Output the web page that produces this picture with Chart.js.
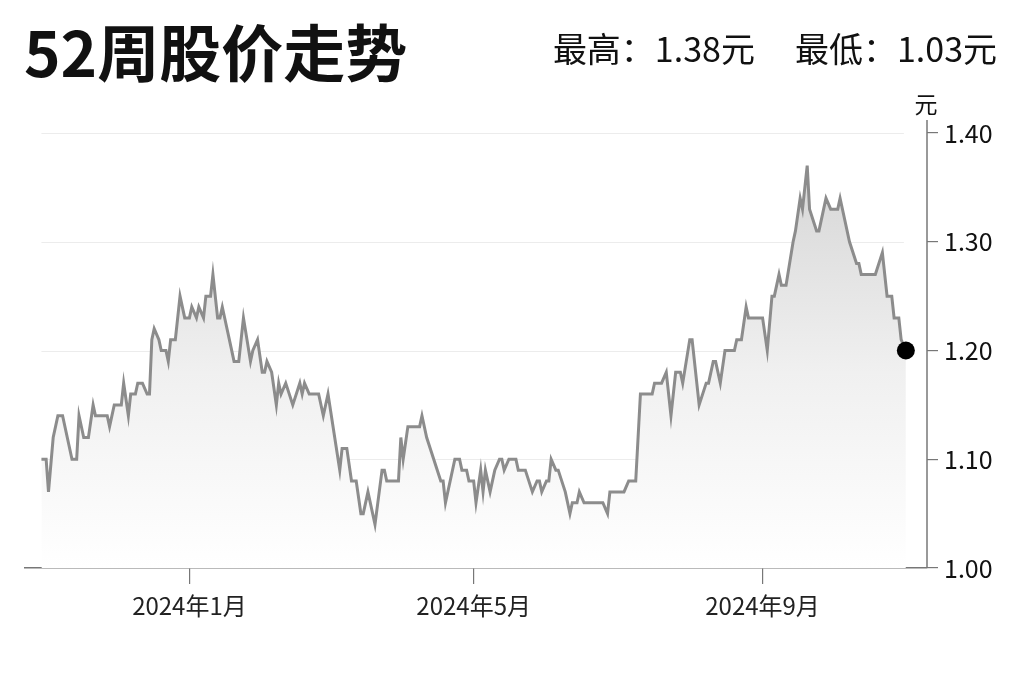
<!DOCTYPE html>
<html>
<head>
<meta charset="utf-8">
<script src="https://cdn.jsdelivr.net/npm/chart.js@4/dist/chart.umd.min.js"></script>
<style>
  html, body { margin: 0; padding: 0; background: #fff; }
  body { width: 1024px; height: 682px; position: relative; overflow: hidden;
         font-family: "Noto Sans CJK SC", "Noto Sans", sans-serif; color: #111; }
  #title { position: absolute; left: 24px; top: 19px; font-size: 62px; font-weight: 700; line-height: 1; }
  #range { position: absolute; right: 27px; top: 31px; font-size: 34px; line-height: 1; }
  #range span + span { margin-left: 40px; }
  #priceChart { position: absolute; left: 0; top: 0; }
</style>
</head>
<body>
<canvas id="priceChart" width="1024" height="682"></canvas>
<div id="title">52周股价走势</div>
<div id="range"><span>最高：1.38元</span><span>最低：1.03元</span></div>
<script>
// days counted from 2024-01-01, closing price in 元
const days = [-63, -61, -60, -58, -56, -54, -52, -50, -48, -47, -45, -43, -41, -40, -35, -34, -32, -29, -28, -26,
  -25, -23, -22, -20, -18, -17, -16, -15, -13, -12, -10, -9, -8, -6, -4, -2, 0, 1, 3, 4,
  6, 7, 9, 10, 12, 13, 14, 16, 17, 19, 21, 23, 26, 27, 29, 31, 32, 33, 35, 37,
  38, 39, 41, 44, 47, 48, 49, 51, 55, 57, 59, 64, 65, 67, 69, 71, 73, 74, 76, 79,
  82, 83, 84, 89, 90, 91, 93, 98, 99, 101, 104, 107, 108, 109, 113, 115, 116, 118, 119, 121,
  122, 124, 125, 126, 128, 130, 132, 133, 134, 136, 139, 140, 143, 146, 148, 149, 150, 152, 153, 154,
  156, 157, 160, 162, 163, 165, 166, 168, 176, 178, 179, 185, 187, 190, 192, 197, 198, 201, 203, 205,
  207, 209, 210, 213, 214, 217, 220, 221, 223, 224, 226, 228, 232, 233, 235, 237, 238, 244, 246, 248,
  249, 251, 252, 254, 257, 258, 260, 261, 263, 264, 267, 268, 271, 273, 276, 277, 281, 284, 285, 286,
  292, 295, 297, 299, 300, 302, 303, 305];
const prices = [1.10, 1.10, 1.07, 1.12, 1.14, 1.14, 1.12, 1.10, 1.10, 1.14, 1.12, 1.12, 1.15, 1.14, 1.14, 1.13, 1.15, 1.15, 1.17, 1.14,
  1.16, 1.16, 1.17, 1.17, 1.16, 1.16, 1.21, 1.22, 1.21, 1.20, 1.20, 1.19, 1.21, 1.21, 1.25, 1.23, 1.23, 1.24, 1.23, 1.24,
  1.23, 1.25, 1.25, 1.27, 1.23, 1.23, 1.24, 1.22, 1.21, 1.19, 1.19, 1.23, 1.19, 1.20, 1.21, 1.18, 1.18, 1.19, 1.18, 1.15,
  1.17, 1.16, 1.17, 1.15, 1.17, 1.16, 1.17, 1.16, 1.16, 1.14, 1.16, 1.09, 1.11, 1.11, 1.08, 1.08, 1.05, 1.05, 1.07, 1.04,
  1.09, 1.09, 1.08, 1.08, 1.12, 1.10, 1.13, 1.13, 1.14, 1.12, 1.10, 1.08, 1.08, 1.06, 1.10, 1.10, 1.09, 1.09, 1.08, 1.08,
  1.06, 1.09, 1.07, 1.09, 1.07, 1.09, 1.10, 1.10, 1.09, 1.10, 1.10, 1.09, 1.09, 1.07, 1.08, 1.08, 1.07, 1.08, 1.08, 1.10,
  1.09, 1.09, 1.07, 1.05, 1.06, 1.06, 1.07, 1.06, 1.06, 1.05, 1.07, 1.07, 1.08, 1.08, 1.16, 1.16, 1.17, 1.17, 1.18, 1.14,
  1.18, 1.18, 1.17, 1.21, 1.21, 1.15, 1.17, 1.17, 1.19, 1.19, 1.17, 1.20, 1.20, 1.21, 1.21, 1.24, 1.23, 1.23, 1.20, 1.25,
  1.25, 1.27, 1.26, 1.26, 1.30, 1.31, 1.34, 1.33, 1.37, 1.33, 1.31, 1.31, 1.34, 1.33, 1.33, 1.34, 1.30, 1.28, 1.28, 1.27,
  1.27, 1.29, 1.25, 1.25, 1.23, 1.23, 1.21, 1.20];

const monthTicks = [0, 121, 244];
const monthLabels = ['2024年1月', '2024年5月', '2024年9月'];
const gridValues = [1.1, 1.2, 1.3, 1.4];

const axisColor = '#777';
const cjk = '"Noto Sans CJK SC", "Noto Sans", sans-serif';

// light gridlines that span only the data range, plus the right axis line and unit
const extras = {
  id: 'extras',
  beforeDatasetsDraw(chart) {
    const { ctx, scales: { x, y } } = chart;
    const x0 = x.getPixelForValue(days[0]);
    const x1 = x.getPixelForValue(days[days.length - 1]) - 2;
    ctx.save();
    ctx.strokeStyle = '#ececec';
    ctx.lineWidth = 1.2;
    gridValues.forEach(v => {
      const py = Math.round(y.getPixelForValue(v)) + 0.5;
      ctx.beginPath();
      ctx.moveTo(x0, py);
      ctx.lineTo(x1, py);
      ctx.stroke();
    });
    ctx.restore();
  },
  afterDraw(chart) {
    const { ctx, chartArea } = chart;
    ctx.save();
    ctx.strokeStyle = axisColor;
    ctx.lineWidth = 1.5;
    ctx.beginPath();
    ctx.moveTo(chartArea.right, chartArea.top - 13);
    ctx.lineTo(chartArea.right, chartArea.bottom);
    ctx.stroke();
    ctx.fillStyle = '#111';
    ctx.font = '23px ' + cjk;
    ctx.textAlign = 'center';
    ctx.textBaseline = 'middle';
    ctx.fillText('元', chartArea.right - 1, chartArea.top - 29);
    ctx.restore();
  }
};

new Chart(document.getElementById('priceChart'), {
  type: 'line',
  data: {
    datasets: [{
      data: days.map((d, i) => ({ x: d, y: prices[i] })),
      borderColor: '#8c8c8c',
      borderWidth: 3,
      tension: 0,
      fill: 'start',
      backgroundColor: function (context) {
        const area = context.chart.chartArea;
        if (!area) return 'rgba(220,220,220,0.5)';
        const g = context.chart.ctx.createLinearGradient(0, area.top, 0, area.bottom);
        g.addColorStop(0, '#d2d2d2');
        g.addColorStop(0.55, '#f0f0f0');
        g.addColorStop(1, '#ffffff');
        return g;
      },
      pointRadius: ctx => ctx.dataIndex === prices.length - 1 ? 9 : 0,
      pointBackgroundColor: '#000',
      pointBorderWidth: 0,
      pointHoverRadius: 0,
      clip: false
    }]
  },
  options: {
    responsive: false,
    animation: false,
    maintainAspectRatio: false,
    devicePixelRatio: 1,
    layout: { padding: { top: 133, left: 25, right: 0, bottom: 0 } },
    plugins: { legend: { display: false }, tooltip: { enabled: false } },
    scales: {
      x: {
        type: 'linear',
        min: -70,
        max: 314,
        afterBuildTicks: scale => { scale.ticks = monthTicks.map(v => ({ value: v })); },
        afterFit: scale => { scale.height = 114; },
        border: { display: true, color: axisColor, width: 1.5 },
        grid: { drawOnChartArea: false, drawTicks: true, tickLength: 16, color: axisColor, lineWidth: 1.2 },
        ticks: {
          autoSkip: false,
          maxRotation: 0,
          padding: 7,
          color: '#222',
          font: { family: cjk, size: 24 },
          callback: v => monthLabels[monthTicks.indexOf(v)]
        }
      },
      y: {
        position: 'right',
        min: 1.0,
        max: 1.4,
        afterFit: scale => { scale.width = 97; },
        border: { display: false },
        grid: { drawOnChartArea: false, drawTicks: true, tickLength: 11, color: axisColor, lineWidth: 1.2 },
        ticks: {
          stepSize: 0.1,
          padding: 6,
          color: '#111',
          font: { family: cjk, size: 25 },
          callback: v => v.toFixed(2)
        }
      }
    }
  },
  plugins: [extras]
});
</script>
</body>
</html>
